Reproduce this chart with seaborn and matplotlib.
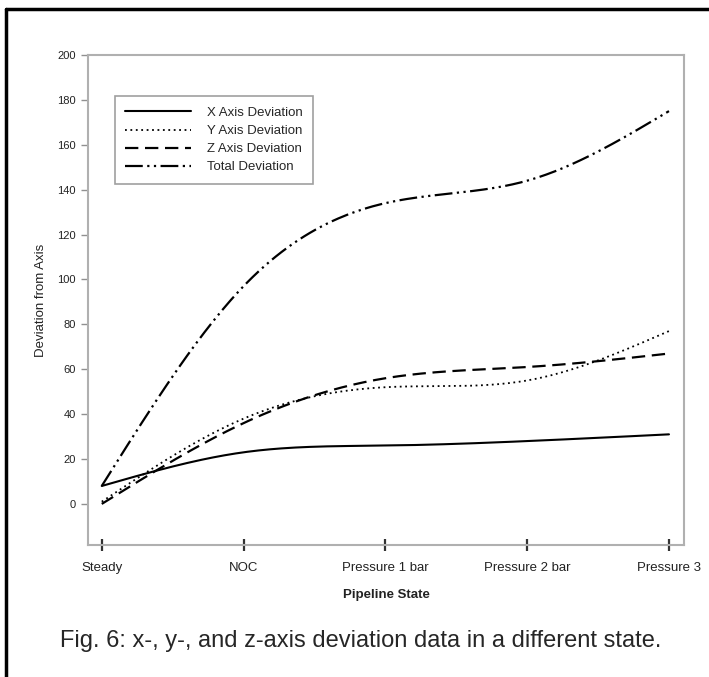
import numpy as np
import pandas as pd
import seaborn as sns
import matplotlib.pyplot as plt
from matplotlib.lines import Line2D

states = ['Steady', 'NOC', 'Pressure 1 bar', 'Pressure 2 bar', 'Pressure 3']
x_dev = [8, 23, 26, 28, 31]
y_dev = [1, 38, 52, 55, 77]
z_dev = [0, 36, 56, 61, 67]
total_dev = [8, 97, 134, 144, 175]

series_names = ['X Axis Deviation', 'Y Axis Deviation', 'Z Axis Deviation', 'Total Deviation']
series_vals = [x_dev, y_dev, z_dev, total_dev]
dash_styles = [(None, None), (1, 2), (6, 3), (8, 2, 1, 2, 1, 2)]
line_widths = [1.5, 1.3, 1.6, 1.6]


def natural_spline(xs, ys, n=200):
    # natural cubic spline through the points, like SigmaPlot's spline curve
    xs = np.asarray(xs, float)
    ys = np.asarray(ys, float)
    k = len(xs)
    h = np.diff(xs)
    A = np.zeros((k, k))
    b = np.zeros(k)
    A[0, 0] = 1
    A[-1, -1] = 1
    for i in range(1, k - 1):
        A[i, i - 1] = h[i - 1]
        A[i, i] = 2 * (h[i - 1] + h[i])
        A[i, i + 1] = h[i]
        b[i] = 3 * ((ys[i + 1] - ys[i]) / h[i] - (ys[i] - ys[i - 1]) / h[i - 1])
    c = np.linalg.solve(A, b)
    xx = np.linspace(xs[0], xs[-1], n)
    idx = np.clip(np.searchsorted(xs, xx) - 1, 0, k - 2)
    dx = xx - xs[idx]
    bb = (ys[1:] - ys[:-1]) / h - h * (2 * c[:-1] + c[1:]) / 3
    dd = (c[1:] - c[:-1]) / (3 * h)
    yy = ys[idx] + bb[idx] * dx + c[idx] * dx ** 2 + dd[idx] * dx ** 3
    return xx, yy


sns.set_style('white')
plt.rcParams['font.family'] = ['Liberation Sans', 'DejaVu Sans']

fig = plt.figure(figsize=(7.09, 6.77), dpi=100)
ax = fig.add_axes([88 / 709, 1 - 545 / 677, 596 / 709, 490 / 677])

pos = np.arange(len(states))
frames = []
for name, vals in zip(series_names, series_vals):
    xx, yy = natural_spline(pos, vals)
    frames.append(pd.DataFrame({'x': xx, 'y': yy, 'series': name}))
df = pd.concat(frames, ignore_index=True)

for name, dash, lw in zip(series_names, dash_styles, line_widths):
    sub = df[df['series'] == name]
    sns.lineplot(data=sub, x='x', y='y', ax=ax, color='black', lw=lw,
                 dashes=False, sort=False, estimator=None, legend=False,
                 linestyle='-' if dash[0] is None else (0, dash))

ax.set_xlim(-0.097, 4.106)
ax.set_ylim(-18.3, 200)
ax.set_xticks(pos)
ax.set_xticklabels(states, fontsize=9.5, color='#222222')
ax.set_yticks(np.arange(0, 201, 20))
ax.tick_params(axis='y', left=True, labelsize=8, labelcolor='#222222', length=5, width=1,
               color='#909090', direction='out', pad=4)
ax.tick_params(axis='x', bottom=True, length=8, width=1.6, color='#333333',
               direction='inout', pad=8)
for s in ax.spines.values():
    s.set_color('#b0b0b0')
    s.set_linewidth(1.5)

ax.set_xlabel('Pipeline State', fontsize=9.5, fontweight='bold', labelpad=11, color='#222222')
ax.set_ylabel('Deviation from Axis', fontsize=9.5, labelpad=7, color='#222222')

handles = []
for name, dash, lw in zip(series_names, dash_styles, line_widths):
    handles.append(Line2D([], [], color='black', lw=lw,
                          linestyle='-' if dash[0] is None else (0, dash)))
leg = ax.legend(handles, series_names, loc='upper left', bbox_to_anchor=(0.045, 0.916),
                borderaxespad=0, fancybox=False, framealpha=1, edgecolor='#a0a0a0',
                fontsize=9.5, handlelength=5.0, handletextpad=1.2, labelspacing=0.45,
                borderpad=0.8)
leg.get_frame().set_linewidth(1.2)

fig.text(60 / 709, 1 - 641 / 677, 'Fig. 6: x-, y-, and z-axis deviation data in a different state.',
         fontsize=17, va='center', ha='left')

# page border, only top and left edges show in the crop
fig.add_artist(Line2D([6 / 709, 1], [1 - 9 / 677, 1 - 9 / 677], color='black', lw=2.5))
fig.add_artist(Line2D([6 / 709, 6 / 709], [0, 1 - 9 / 677], color='black', lw=2.5))

plt.savefig('out.png', dpi=100)
